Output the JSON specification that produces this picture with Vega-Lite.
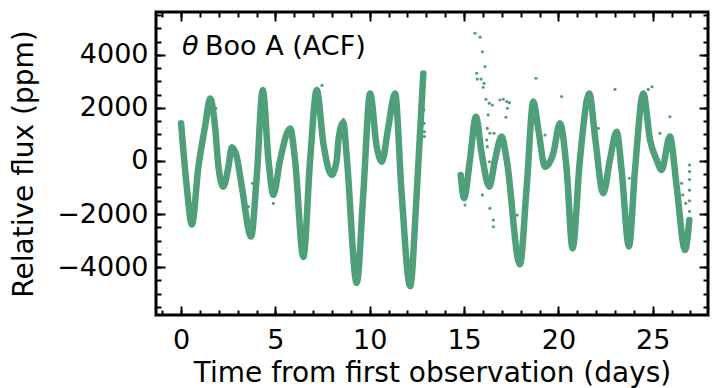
{
  "$schema": "https://vega.github.io/schema/vega-lite/v6.json",
  "width": 552,
  "height": 303,
  "autosize": {"type": "none"},
  "padding": {"left": 156, "top": 12, "right": 5, "bottom": 73},
  "background": "white",
  "config": {
    "view": {"stroke": "black", "strokeWidth": 3},
    "axis": {
      "grid": false, "domain": false, "tickColor": "black", "tickWidth": 2,
      "labelFont": "DejaVu Sans", "labelFontSize": 27, "labelColor": "black",
      "titleFont": "DejaVu Sans", "titleFontSize": 28, "titleFontWeight": "normal", "titleColor": "black",
      "labelFlush": false
    }
  },
  "datasets": {
    "curve": [
      {"t": 0.0, "f": 1420, "seg": 1}, {"t": 0.3, "f": -970, "seg": 1}, {"t": 0.57, "f": -2400, "seg": 1},
      {"t": 0.92, "f": -210, "seg": 1}, {"t": 1.27, "f": 1300, "seg": 1}, {"t": 1.54, "f": 2360, "seg": 1},
      {"t": 1.8, "f": 1300, "seg": 1}, {"t": 1.98, "f": -210, "seg": 1}, {"t": 2.24, "f": -970, "seg": 1},
      {"t": 2.51, "f": -210, "seg": 1}, {"t": 2.69, "f": 520, "seg": 1}, {"t": 2.95, "f": 160, "seg": 1},
      {"t": 3.22, "f": -970, "seg": 1}, {"t": 3.71, "f": -2850, "seg": 1}, {"t": 4.01, "f": -590, "seg": 1},
      {"t": 4.33, "f": 2680, "seg": 1}, {"t": 4.63, "f": 40, "seg": 1}, {"t": 4.89, "f": -1280, "seg": 1},
      {"t": 5.25, "f": 40, "seg": 1}, {"t": 5.78, "f": 1230, "seg": 1}, {"t": 6.04, "f": 40, "seg": 1},
      {"t": 6.48, "f": -3620, "seg": 1}, {"t": 6.84, "f": 40, "seg": 1}, {"t": 7.19, "f": 2680, "seg": 1},
      {"t": 7.54, "f": 670, "seg": 1}, {"t": 7.98, "f": -530, "seg": 1}, {"t": 8.25, "f": 40, "seg": 1},
      {"t": 8.34, "f": 790, "seg": 1}, {"t": 8.6, "f": 1450, "seg": 1}, {"t": 8.78, "f": 160, "seg": 1},
      {"t": 9.31, "f": -4600, "seg": 1}, {"t": 9.66, "f": -1220, "seg": 1}, {"t": 10.02, "f": 2550, "seg": 1},
      {"t": 10.37, "f": 540, "seg": 1}, {"t": 10.64, "f": -30, "seg": 1}, {"t": 10.99, "f": 1300, "seg": 1},
      {"t": 11.34, "f": 2550, "seg": 1}, {"t": 11.69, "f": -1220, "seg": 1}, {"t": 12.14, "f": -4720, "seg": 1},
      {"t": 12.49, "f": -1220, "seg": 1}, {"t": 12.84, "f": 3300, "seg": 1},
      {"t": 14.82, "f": -530, "seg": 2}, {"t": 15.0, "f": -1400, "seg": 2}, {"t": 15.31, "f": 40, "seg": 2},
      {"t": 15.63, "f": 1670, "seg": 2}, {"t": 15.93, "f": 290, "seg": 2}, {"t": 16.34, "f": -970, "seg": 2},
      {"t": 16.64, "f": 40, "seg": 2}, {"t": 16.99, "f": 920, "seg": 2}, {"t": 17.26, "f": 40, "seg": 2},
      {"t": 17.96, "f": -3900, "seg": 2}, {"t": 18.32, "f": -970, "seg": 2}, {"t": 18.67, "f": 2240, "seg": 2},
      {"t": 18.94, "f": 1170, "seg": 2}, {"t": 19.29, "f": -215, "seg": 2}, {"t": 19.73, "f": 290, "seg": 2},
      {"t": 20.08, "f": 1420, "seg": 2}, {"t": 20.44, "f": -340, "seg": 2}, {"t": 20.75, "f": -3300, "seg": 2},
      {"t": 21.14, "f": 40, "seg": 2}, {"t": 21.64, "f": 2550, "seg": 2}, {"t": 21.94, "f": 920, "seg": 2},
      {"t": 22.38, "f": -1220, "seg": 2}, {"t": 22.73, "f": 40, "seg": 2}, {"t": 23.09, "f": 1100, "seg": 2},
      {"t": 23.35, "f": -340, "seg": 2}, {"t": 23.74, "f": -3230, "seg": 2}, {"t": 24.06, "f": -340, "seg": 2},
      {"t": 24.5, "f": 2550, "seg": 2}, {"t": 24.86, "f": 790, "seg": 2}, {"t": 25.21, "f": 40, "seg": 2},
      {"t": 25.47, "f": -340, "seg": 2}, {"t": 25.91, "f": 920, "seg": 2}, {"t": 26.27, "f": -970, "seg": 2},
      {"t": 26.71, "f": -3360, "seg": 2}, {"t": 26.94, "f": -2230, "seg": 2}
    ],
    "pts": [
      {"t": 15.58, "f": 4820}, {"t": 15.85, "f": 4670}, {"t": 15.97, "f": 4120}, {"t": 16.11, "f": 3560},
      {"t": 15.67, "f": 3310}, {"t": 15.7, "f": 3090}, {"t": 15.9, "f": 3090}, {"t": 16.06, "f": 2930},
      {"t": 16.02, "f": 2780}, {"t": 16.16, "f": 2330}, {"t": 16.34, "f": 2180}, {"t": 16.5, "f": 2110},
      {"t": 16.9, "f": 2300}, {"t": 17.08, "f": 2330}, {"t": 17.26, "f": 2240}, {"t": 17.4, "f": 2200},
      {"t": 17.3, "f": 1990}, {"t": 17.22, "f": 1650}, {"t": 16.28, "f": 1740}, {"t": 16.23, "f": 1230},
      {"t": 16.2, "f": 790}, {"t": 16.37, "f": 1045}, {"t": 16.59, "f": 1045}, {"t": 16.23, "f": 540},
      {"t": 16.34, "f": -30}, {"t": 16.52, "f": -30}, {"t": 18.81, "f": 3120}, {"t": 20.17, "f": 2430},
      {"t": 19.29, "f": 980}, {"t": 22.12, "f": 1230}, {"t": 23.0, "f": 2700}, {"t": 24.76, "f": 2700},
      {"t": 24.96, "f": 2800}, {"t": 25.38, "f": 1045}, {"t": 25.91, "f": 1670}, {"t": 23.76, "f": -650},
      {"t": 26.53, "f": -840}, {"t": 15.97, "f": -1280}, {"t": 16.37, "f": -1790}, {"t": 16.55, "f": -2230},
      {"t": 16.55, "f": -2480}, {"t": 15.05, "f": -1660}, {"t": 17.82, "f": -2040}, {"t": 17.79, "f": -2980},
      {"t": 26.59, "f": -1280}, {"t": 26.75, "f": -1600},
      {"t": 26.95, "f": -1900}, {"t": 26.95, "f": -1500}, {"t": 26.95, "f": -1100}, {"t": 26.95, "f": -700},
      {"t": 26.95, "f": -400}, {"t": 26.95, "f": -150},
      {"t": 3.78, "f": -840}, {"t": 3.57, "f": -1720}, {"t": 4.89, "f": -1600}, {"t": 0.78, "f": -970},
      {"t": 1.84, "f": 1990}, {"t": 7.47, "f": 2850}, {"t": 8.6, "f": 1570},
      {"t": 12.86, "f": 2430}, {"t": 12.87, "f": 1920}, {"t": 12.88, "f": 1420}, {"t": 12.9, "f": 1100}, {"t": 12.9, "f": 920}
    ]
  },
  "resolve": {"axis": {"x": "independent", "y": "independent"}},
  "layer": [
    {
      "data": {"name": "curve"},
      "mark": {"type": "line", "color": "#4f9f7b", "strokeWidth": 6.5, "strokeJoin": "round", "strokeCap": "round", "interpolate": "monotone"},
      "encoding": {
        "x": {"field": "t", "type": "quantitative",
              "scale": {"domain": [-1.33, 27.93], "nice": false, "zero": false},
              "axis": {"orient": "bottom", "values": [0, 5, 10, 15, 20, 25], "tickSize": -9, "labelPadding": 21,
                       "title": "Time from first observation (days)", "titlePadding": 6, "format": "d"}},
        "y": {"field": "f", "type": "quantitative",
              "scale": {"domain": [-5810, 5620], "nice": false, "zero": false},
              "axis": {"orient": "left", "values": [-4000, -2000, 0, 2000, 4000], "tickSize": -9, "labelPadding": 17,
                       "title": "Relative flux (ppm)", "titlePadding": 18, "format": "d",
                       "labelExpr": "replace(datum.label, '-', '−')"}},
        "detail": {"field": "seg", "type": "nominal"}
      }
    },
    {
      "data": {"name": "pts"},
      "mark": {"type": "circle", "color": "#4f9f7b", "size": 10, "opacity": 1},
      "encoding": {
        "x": {"field": "t", "type": "quantitative",
              "scale": {"domain": [-1.33, 27.93], "nice": false, "zero": false},
              "axis": {"orient": "bottom", "values": [-1,0,1,2,3,4,5,6,7,8,9,10,11,12,13,14,15,16,17,18,19,20,21,22,23,24,25,26,27],
                       "tickSize": -5, "labels": false, "title": null}},
        "y": {"field": "f", "type": "quantitative",
              "scale": {"domain": [-5810, 5620], "nice": false, "zero": false},
              "axis": {"orient": "left", "values": [-5500,-5000,-4500,-4000,-3500,-3000,-2500,-2000,-1500,-1000,-500,0,500,1000,1500,2000,2500,3000,3500,4000,4500,5000,5500],
                       "tickSize": -5, "labels": false, "title": null}}
      }
    },
    {
      "data": {"name": "pts"},
      "mark": {"type": "circle", "opacity": 0},
      "encoding": {
        "x": {"field": "t", "type": "quantitative",
              "scale": {"domain": [-1.33, 27.93], "nice": false, "zero": false},
              "axis": {"orient": "top", "values": [0, 5, 10, 15, 20, 25], "tickSize": -9, "labels": false, "title": null}},
        "y": {"field": "f", "type": "quantitative",
              "scale": {"domain": [-5810, 5620], "nice": false, "zero": false},
              "axis": {"orient": "right", "values": [-4000, -2000, 0, 2000, 4000], "tickSize": -9, "labels": false, "title": null}}
      }
    },
    {
      "data": {"name": "pts"},
      "mark": {"type": "circle", "opacity": 0},
      "encoding": {
        "x": {"field": "t", "type": "quantitative",
              "scale": {"domain": [-1.33, 27.93], "nice": false, "zero": false},
              "axis": {"orient": "top", "values": [-1,0,1,2,3,4,5,6,7,8,9,10,11,12,13,14,15,16,17,18,19,20,21,22,23,24,25,26,27],
                       "tickSize": -5, "labels": false, "title": null}},
        "y": {"field": "f", "type": "quantitative",
              "scale": {"domain": [-5810, 5620], "nice": false, "zero": false},
              "axis": {"orient": "right", "values": [-5500,-5000,-4500,-4000,-3500,-3000,-2500,-2000,-1500,-1000,-500,0,500,1000,1500,2000,2500,3000,3500,4000,4500,5000,5500],
                       "tickSize": -5, "labels": false, "title": null}}
      }
    },
    {
      "data": {"values": [{"t": 0.05, "f": 4000, "txt": "θ"}]},
      "mark": {"type": "text", "font": "DejaVu Sans", "fontSize": 27, "fontStyle": "italic", "align": "left", "baseline": "alphabetic", "color": "black"},
      "encoding": {
        "x": {"field": "t", "type": "quantitative", "axis": null},
        "y": {"field": "f", "type": "quantitative", "axis": null},
        "text": {"field": "txt"}
      }
    },
    {
      "data": {"values": [{"t": 1.27, "f": 4000, "txt": "Boo A (ACF)"}]},
      "mark": {"type": "text", "font": "DejaVu Sans", "fontSize": 27, "align": "left", "baseline": "alphabetic", "color": "black"},
      "encoding": {
        "x": {"field": "t", "type": "quantitative", "axis": null},
        "y": {"field": "f", "type": "quantitative", "axis": null},
        "text": {"field": "txt"}
      }
    }
  ]
}
